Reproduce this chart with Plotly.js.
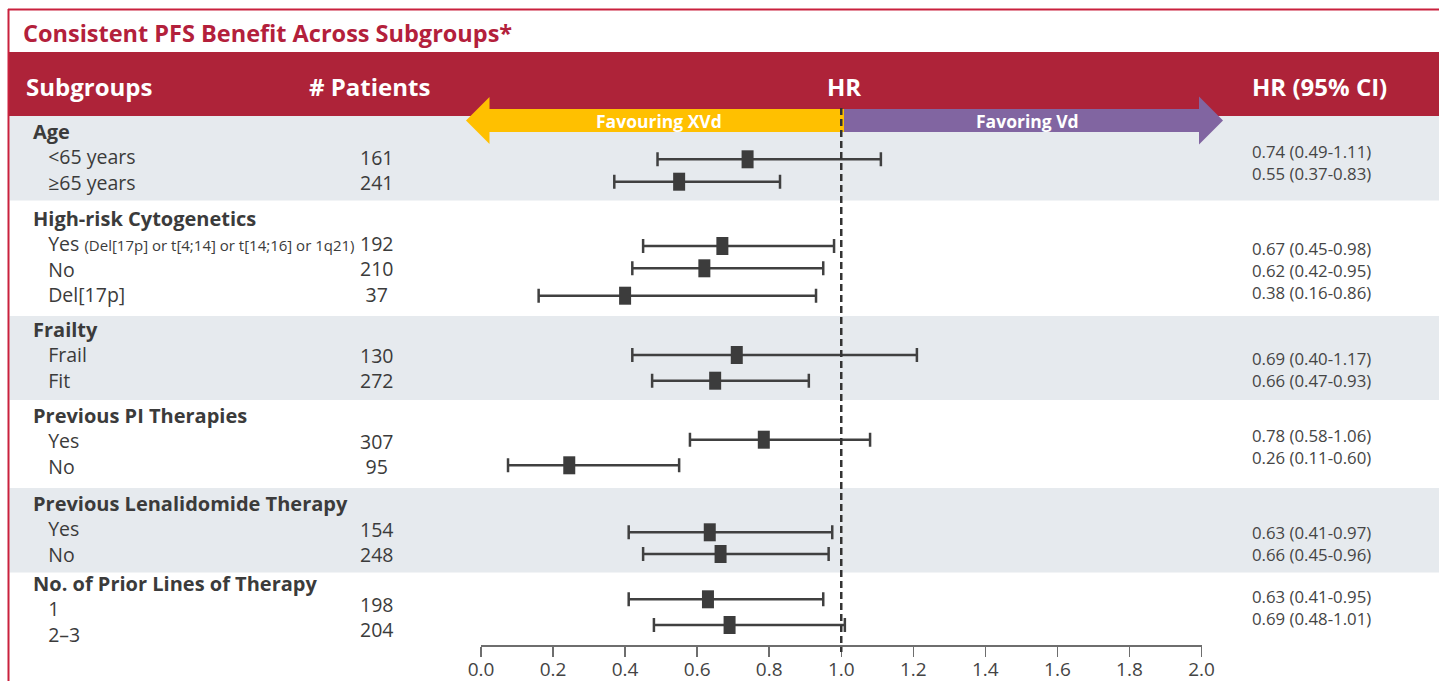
<!DOCTYPE html>
<html>
<head>
<meta charset="utf-8">
<script src="https://cdn.plot.ly/plotly-3.0.1.min.js"></script>
<style>
html,body{margin:0;padding:0;background:#fff;}
#chart{width:1439px;height:681px;}
</style>
</head>
<body>
<div id="chart"></div>
<script>
// ---------------- DATA ----------------
const chartTitle = "Consistent PFS Benefit Across Subgroups*";
const columnHeaders = ["Subgroups", "# Patients", "HR", "HR (95% CI)"];
const arrowLabels = ["Favouring XVd", "Favoring Vd"];
const groupNames = ["Age", "High-risk Cytogenetics", "Frailty", "Previous PI Therapies",
                    "Previous Lenalidomide Therapy", "No. of Prior Lines of Therapy"];
const subgroupLabels = ["<65 years", "≥65 years",
                        "Yes", "No", "Del[17p]",
                        "Frail", "Fit",
                        "Yes", "No",
                        "Yes", "No",
                        "1", "2–3"];
const subgroupNotes = ["", "", "(Del[17p] or t[4;14] or t[14;16] or 1q21)", "", "", "", "", "", "", "", "", "", ""];
const groupOfSubgroup = [0, 0, 1, 1, 1, 2, 2, 3, 3, 4, 4, 5, 5];
const patients = [161, 241, 192, 210, 37, 130, 272, 307, 95, 154, 248, 198, 204];
const hrCiText = ["0.74 (0.49-1.11)", "0.55 (0.37-0.83)",
                  "0.67 (0.45-0.98)", "0.62 (0.42-0.95)", "0.38 (0.16-0.86)",
                  "0.69 (0.40-1.17)", "0.66 (0.47-0.93)",
                  "0.78 (0.58-1.06)", "0.26 (0.11-0.60)",
                  "0.63 (0.41-0.97)", "0.66 (0.45-0.96)",
                  "0.63 (0.41-0.95)", "0.69 (0.48-1.01)"];
// plotted values as drawn in the figure
const hrPlotted = [0.74, 0.55, 0.67, 0.62, 0.40, 0.71, 0.65, 0.785, 0.245, 0.635, 0.665, 0.63, 0.69];
const ciLower   = [0.49, 0.37, 0.45, 0.42, 0.16, 0.42, 0.475, 0.58, 0.075, 0.41, 0.45, 0.41, 0.48];
const ciUpper   = [1.11, 0.83, 0.98, 0.95, 0.93, 1.21, 0.91, 1.08, 0.55, 0.975, 0.965, 0.95, 1.01];
const xTicks = [0, 0.2, 0.4, 0.6, 0.8, 1.0, 1.2, 1.4, 1.6, 1.8, 2.0];
const referenceHR = 1.0;

// ---------------- LAYOUT (pixel rows, from top) ----------------
const W = 1439, H = 681;
const px = v => v / W;   // pixel -> paper x
const groupHeaderY = [131.5, 218, 330, 416, 503, 584];
const labelY  = [157, 182, 243, 269, 294, 355, 380, 441.5, 466.5, 529, 554, 608, 634];
const countY  = [157, 182, 243, 269, 294, 355, 380, 441.5, 466.5, 529, 554, 604, 630];
const markerY = [159.3, 181.7, 246, 268.3, 295.7, 355, 380.7, 439.7, 465.3, 532.3, 554, 599.3, 625];
const ciTextY = [152.3, 173.3, 249.3, 270.7, 292.3, 358, 380.7, 435.7, 456.7, 532.7, 553.3, 596.7, 618.3];
const bandRanges = [[116, 200.5], [316, 400], [488, 572.5]];

const FONT = "Open Sans, Noto Sans, DejaVu Sans, sans-serif";
const DARK = "#3b3b3b";
const RED_HEADER = "#AE2339";
const RED_TITLE = "#B3203B";
const BAND = "#E6EAEE";

const shapes = [];
const annotations = [];

// frame
shapes.push({type: "rect", xref: "paper", yref: "y", x0: px(8), x1: 1.01, y0: 52, y1: 116,
             fillcolor: RED_HEADER, line: {width: 0}, layer: "below"});
bandRanges.forEach(b => shapes.push({type: "rect", xref: "paper", yref: "y", x0: px(9.5), x1: 1.01,
             y0: b[0], y1: b[1], fillcolor: BAND, line: {width: 0}, layer: "below"}));
shapes.push({type: "line", xref: "paper", yref: "y", x0: px(8), x1: 1.01, y0: 9.5, y1: 9.5,
             line: {color: "#C9213D", width: 2}});
shapes.push({type: "line", xref: "paper", yref: "y", x0: px(8.5), x1: px(8.5), y0: 9, y1: H + 5,
             line: {color: "#C9213D", width: 2}});

// arrows
function pathOf(pts) {
  return "M " + pts.map(p => px(p[0]) + "," + p[1]).join(" L ") + " Z";
}
shapes.push({type: "path", xref: "paper", yref: "y",
  path: pathOf([[844,109],[489.5,109],[489.5,97],[466,120.5],[489.5,144],[489.5,132],[844,132]]),
  fillcolor: "#FFC000", line: {width: 0}});
shapes.push({type: "path", xref: "paper", yref: "y",
  path: pathOf([[844,109],[1199,109],[1199,96.5],[1223,120.5],[1199,144.5],[1199,132],[844,132]]),
  fillcolor: "#8165A1", line: {width: 0}});

// reference line
shapes.push({type: "line", xref: "x", yref: "y", x0: referenceHR, x1: referenceHR, y0: 108, y1: 652,
             line: {color: "#333333", width: 2.5, dash: "7px,4px"}});

// point-estimate boxes
hrPlotted.forEach((v, i) => shapes.push({type: "rect", xref: "x", yref: "y",
  xsizemode: "pixel", xanchor: v, x0: -6, x1: 6,
  y0: markerY[i] - 9, y1: markerY[i] + 9,
  fillcolor: "#3c3c3c", line: {width: 0}}));

function ann(x, y, text, size, opts) {
  annotations.push(Object.assign({xref: "paper", yref: "y", x: px(x), y: y, text: text,
    showarrow: false, xanchor: "left", yanchor: "middle", align: "left",
    font: {family: FONT, size: size, color: DARK}}, opts || {}));
}
const esc = s => s.replace(/&/g, "&amp;").replace(/</g, "&lt;").replace(/>/g, "&gt;");
const mean = a => a.reduce((s, v) => s + v, 0) / a.length;

// title & headers
ann(21, 33, chartTitle, 23.5, {font: {family: FONT, size: 23.5, color: RED_TITLE, weight: 700}});
const hdrFont = {family: FONT, size: 24, color: "#ffffff", weight: 700};
ann(24, 86, columnHeaders[0], 24, {font: hdrFont});
ann(307, 86, columnHeaders[1], 24, {font: hdrFont});
ann(844, 86, columnHeaders[2], 24, {font: hdrFont, xanchor: "center"});
ann(1250, 86, columnHeaders[3], 24, {font: hdrFont});
const arrFont = {family: FONT, size: 17.5, color: "#ffffff", weight: 700};
ann(659, 120.5, arrowLabels[0], 17.5, {font: arrFont, xanchor: "center"});
ann(1027, 120.5, arrowLabels[1], 17.5, {font: arrFont, xanchor: "center"});

// one text block per group (header + subgroups), numbers block, CI block
const INDENT = "\u00A0\u00A0\u00A0";
groupNames.forEach((g, k) => {
  const idx = groupOfSubgroup.map((gg, i) => gg === k ? i : -1).filter(i => i >= 0);
  const lines = ["<b><span style='font-size:20px'>" + esc(g) + "</span></b>"].concat(idx.map(i =>
    INDENT + esc(subgroupLabels[i]) +
    (subgroupNotes[i] ? " <span style='font-size:15px'>" + esc(subgroupNotes[i]) + "</span>" : "")));
  ann(31, mean([groupHeaderY[k]].concat(idx.map(i => labelY[i]))), lines.join("<br>"), 19.5);
  ann(376, mean(idx.map(i => countY[i])), idx.map(i => String(patients[i])).join("<br>"), 19.5,
      {xanchor: "center", align: "center"});
  ann(1250, mean(idx.map(i => ciTextY[i])), idx.map(i => hrCiText[i]).join("<br>"), 16.8,
      {font: {family: FONT, size: 16.8, color: "#454545"}});
});

// CI whiskers trace
const trace = {
  type: "scatter", mode: "markers", x: hrPlotted, y: markerY,
  xaxis: "x", yaxis: "y",
  marker: {size: 1, color: "rgba(0,0,0,0)"},
  error_x: {type: "data", symmetric: false,
            array: hrPlotted.map((v, i) => ciUpper[i] - v),
            arrayminus: hrPlotted.map((v, i) => v - ciLower[i]),
            color: "#404040", thickness: 2.5, width: 7},
  hoverinfo: "skip"
};

const layout = {
  width: W, height: H,
  margin: {l: 0, r: 0, t: 0, b: 0},
  paper_bgcolor: "#ffffff", plot_bgcolor: "rgba(0,0,0,0)",
  showlegend: false,
  xaxis: {domain: [481 / W, 1201.5 / W], range: [0, 2], anchor: "free", position: 36 / H,
          tickvals: xTicks, ticktext: xTicks.map(v => v.toFixed(1)),
          showline: true, linecolor: "#6e6e6e", linewidth: 1.5,
          ticks: "outside", ticklen: 10, tickwidth: 1.5, tickcolor: "#6e6e6e",
          ticklabelstandoff: -3,
          showgrid: false, zeroline: false, fixedrange: true,
          tickfont: {family: FONT, size: 19, color: "#444444"}},
  yaxis: {domain: [0, 1], range: [H, 0], visible: false, fixedrange: true},
  shapes: shapes,
  annotations: annotations
};

Plotly.newPlot("chart", [trace], layout, {displayModeBar: false, staticPlot: true});
</script>
</body>
</html>
